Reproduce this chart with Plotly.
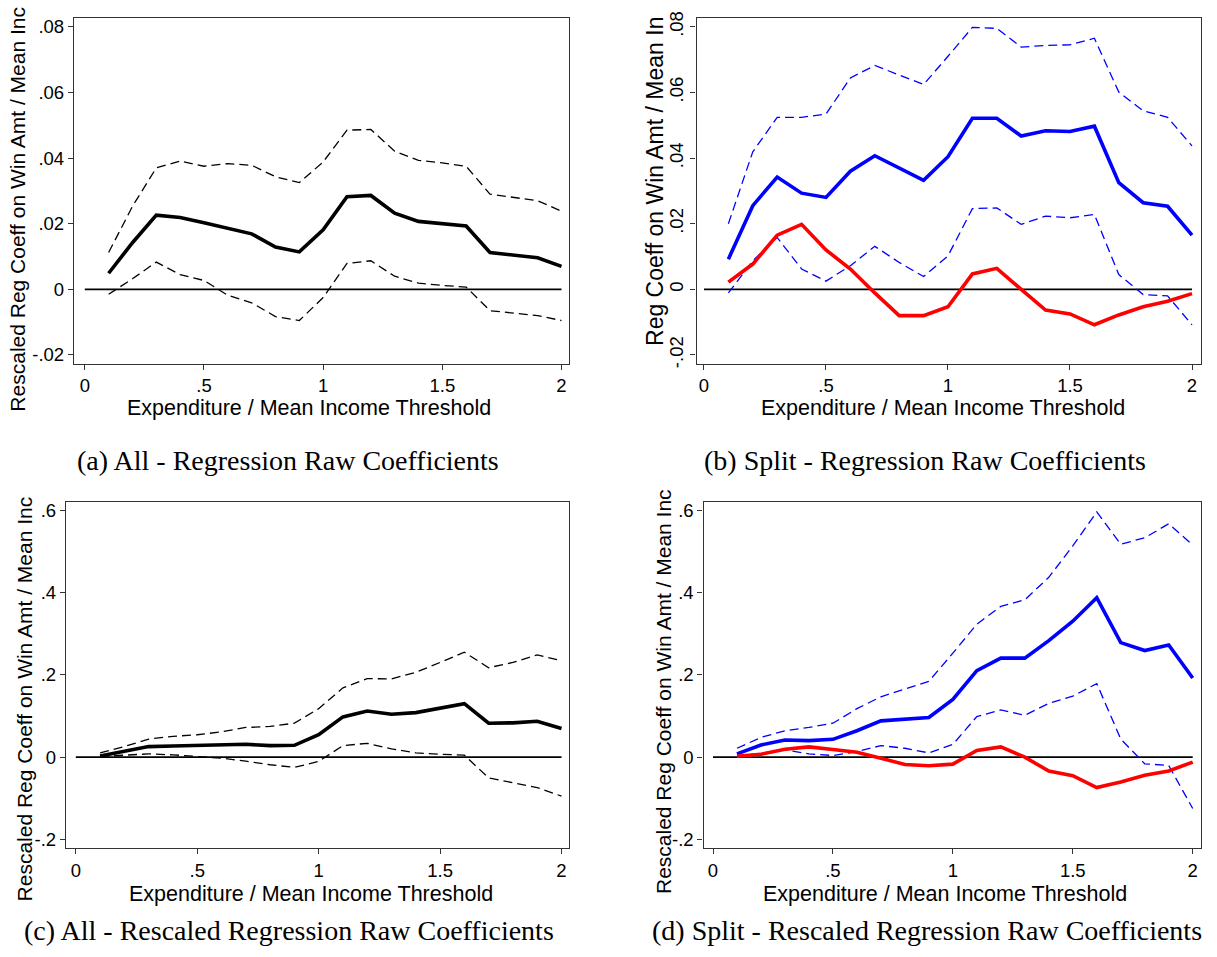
import plotly.graph_objects as go

# ---------------- data ----------------
x_thr = [0.1, 0.2, 0.3, 0.4, 0.5, 0.6, 0.7, 0.8, 0.9, 1.0,
         1.1, 1.2, 1.3, 1.4, 1.5, 1.6, 1.7, 1.8, 1.9, 2.0]

# (a) All - raw coefficients
a_coef = [0.0049, 0.0142, 0.0226, 0.0219, 0.0203, 0.0186, 0.0169, 0.0129, 0.0114, 0.0181,
          0.0282, 0.0286, 0.0232, 0.0207, 0.0199, 0.0193, 0.0112, 0.0104, 0.0096, 0.0070]
a_hi = [0.0112, 0.0253, 0.0370, 0.0391, 0.0375, 0.0383, 0.0378, 0.0343, 0.0325, 0.0388,
        0.0485, 0.0487, 0.0421, 0.0393, 0.0385, 0.0375, 0.0290, 0.0281, 0.0270, 0.0238]
a_lo = [-0.0015, 0.0032, 0.0083, 0.0045, 0.0027, -0.0018, -0.0041, -0.0083, -0.0095, -0.0025,
        0.0079, 0.0087, 0.0040, 0.0019, 0.0012, 0.0007, -0.0065, -0.0073, -0.0080, -0.0095]

# (b) Split - raw coefficients
b_blue = [0.0092, 0.0255, 0.0342, 0.0293, 0.0280, 0.0360, 0.0407, 0.0368, 0.0332, 0.0404,
          0.0521, 0.0521, 0.0467, 0.0483, 0.0481, 0.0497, 0.0325, 0.0264, 0.0253, 0.0165]
b_hi = [0.0200, 0.0419, 0.0524, 0.0524, 0.0534, 0.0644, 0.0682, 0.0654, 0.0624, 0.0710,
        0.0798, 0.0795, 0.0738, 0.0743, 0.0745, 0.0765, 0.0601, 0.0544, 0.0524, 0.0437]
b_lo = [-0.0011, 0.0087, 0.0158, 0.0062, 0.0025, 0.0072, 0.0131, 0.0082, 0.0039, 0.0102,
        0.0246, 0.0248, 0.0198, 0.0223, 0.0218, 0.0228, 0.0045, -0.0016, -0.0020, -0.0108]
b_red = [0.0022, 0.0077, 0.0165, 0.0198, 0.0120, 0.0062, -0.0011, -0.0080, -0.0080, -0.0053,
         0.0047, 0.0064, 0.0000, -0.0063, -0.0075, -0.0108, -0.0078, -0.0053, -0.0036, -0.0013]

# (c) All - rescaled coefficients
c_coef = [0.0030, 0.0137, 0.0257, 0.0273, 0.0281, 0.0289, 0.0313, 0.0281, 0.0289, 0.0546,
          0.0980, 0.1124, 0.1044, 0.1084, 0.1197, 0.1301, 0.0827, 0.0835, 0.0875, 0.0699]
c_hi = [0.0104, 0.0260, 0.0440, 0.0506, 0.0546, 0.0615, 0.0723, 0.0747, 0.0827, 0.1180,
        0.1687, 0.1912, 0.1905, 0.2064, 0.2305, 0.2554, 0.2177, 0.2305, 0.2490, 0.2345]
c_lo = [0.0016, 0.0040, 0.0080, 0.0056, 0.0024, -0.0024, -0.0096, -0.0185, -0.0249, -0.0104,
        0.0281, 0.0337, 0.0201, 0.0104, 0.0072, 0.0048, -0.0506, -0.0618, -0.0739, -0.0948]

# (d) Split - rescaled coefficients
d_blue = [0.0080, 0.0297, 0.0418, 0.0402, 0.0434, 0.0643, 0.0884, 0.0924, 0.0964, 0.1406,
          0.2104, 0.2410, 0.2410, 0.2835, 0.3309, 0.3880, 0.2787, 0.2594, 0.2731, 0.1928]
d_hi = [0.0217, 0.0480, 0.0643, 0.0723, 0.0827, 0.1180, 0.1470, 0.1660, 0.1847, 0.2530,
        0.3237, 0.3670, 0.3830, 0.4377, 0.5140, 0.5968, 0.5180, 0.5340, 0.5679, 0.5165]
d_lo = [0.0020, 0.0104, 0.0177, 0.0080, 0.0040, 0.0137, 0.0281, 0.0217, 0.0104, 0.0310,
        0.0988, 0.1149, 0.1020, 0.1309, 0.1486, 0.1791, 0.0442, -0.0161, -0.0201, -0.1250]
d_red = [0.0024, 0.0072, 0.0193, 0.0249, 0.0185, 0.0120, -0.0024, -0.0177, -0.0209, -0.0169,
         0.0161, 0.0249, 0.0000, -0.0337, -0.0450, -0.0739, -0.0602, -0.0442, -0.0337, -0.0120]

# zero reference line
ref_x = [0, 2]
ref_y = [0, 0]

# tick labels
x_tickvals = [0, 0.5, 1, 1.5, 2]
x_ticktext = ["0", ".5", "1", "1.5", "2"]
y_raw_vals = [-0.02, 0, 0.02, 0.04, 0.06, 0.08]
y_raw_text = ["-.02", "0", ".02", ".04", ".06", ".08"]
y_res_vals = [-0.2, 0, 0.2, 0.4, 0.6]
y_res_text = ["-.2", "0", ".2", ".4", ".6"]

# text
x_title = "Expenditure / Mean Income Threshold"
y_titles = ["Rescaled Reg Coeff on Win Amt / Mean Inc",
            "Reg Coeff on Win Amt / Mean In",
            "Rescaled Reg Coeff on Win Amt / Mean Inc",
            "Rescaled Reg Coeff on Win Amt / Mean Inc"]
captions = ["(a) All - Regression Raw Coefficients",
            "(b) Split - Regression Raw Coefficients",
            "(c) All - Rescaled Regression Raw Coefficients",
            "(d) Split - Rescaled Regression Raw Coefficients"]

# ---------------- layout geometry (pixels) ----------------
W, H = 1217, 957
SANS = "Liberation Sans, Arial, sans-serif"
SERIF = "Liberation Serif, Times New Roman, serif"
BLACK = "#000000"
BLUE = "#0000ff"
RED = "#ff0000"

def px(x):
    return x / W

def py(y):
    return 1 - y / H

# frame boxes: left, right, top, bottom ; x data range ; y data range
panels = [
    dict(l=74, r=569, t=11, b=361, xr=[-0.0453, 2.0315], yr=[-0.0227, 0.0827], raw=True),
    dict(l=696.5, r=1201, t=11, b=361, xr=[-0.0307, 2.0369], yr=[-0.0227, 0.0827], raw=True),
    dict(l=66, r=569, t=501, b=851, xr=[-0.0404, 2.0309], yr=[-0.2216, 0.6204], raw=False),
    dict(l=703.5, r=1201, t=501, b=851, xr=[-0.0396, 2.0346], yr=[-0.2216, 0.6204], raw=False),
]

fig = go.Figure()

series = [
    [(a_hi, BLACK, "dash"), (a_lo, BLACK, "dash"), (a_coef, BLACK, "solid")],
    [(b_hi, BLUE, "dash"), (b_lo, BLUE, "dash"), (b_blue, BLUE, "solid"), (b_red, RED, "solid")],
    [(c_hi, BLACK, "dash"), (c_lo, BLACK, "dash"), (c_coef, BLACK, "solid")],
    [(d_hi, BLUE, "dash"), (d_lo, BLUE, "dash"), (d_blue, BLUE, "solid"), (d_red, RED, "solid")],
]

for i, p in enumerate(panels):
    n = "" if i == 0 else str(i + 1)
    xa, ya = "x" + n, "y" + n
    fig.add_trace(go.Scatter(x=ref_x, y=ref_y, mode="lines", xaxis=xa, yaxis=ya,
                             line=dict(color=BLACK, width=1.6), showlegend=False,
                             hoverinfo="skip"))
    for vals, col, dash in series[i]:
        if dash == "dash":
            line = dict(color=col, width=1.3, dash="9px,5px")
        else:
            line = dict(color=col, width=3.6)
        fig.add_trace(go.Scatter(x=x_thr, y=vals, mode="lines", xaxis=xa, yaxis=ya,
                                 line=line, showlegend=False))

    axis_common = dict(showgrid=False, zeroline=False, showline=True, mirror=True,
                       linecolor="#333333", linewidth=1.3, ticks="outside", ticklen=5,
                       tickcolor="#333333", tickwidth=1.3,
                       tickfont=dict(family=SANS, size=18.5, color=BLACK))
    xaxis = dict(domain=[px(p["l"]), px(p["r"])], range=p["xr"], anchor=ya,
                 tickvals=x_tickvals, ticktext=x_ticktext, **axis_common)
    if p["raw"]:
        yv, yt = y_raw_vals, y_raw_text
    else:
        yv, yt = y_res_vals, y_res_text
    yaxis = dict(domain=[py(p["b"]), py(p["t"])], range=p["yr"], anchor=xa,
                 tickvals=yv, ticktext=yt, **axis_common)
    if i == 1:
        yaxis["tickangle"] = -90
    fig.update_layout(**{"xaxis" + n: xaxis, "yaxis" + n: yaxis})

annotations = []
x_title_pos = [(308.5, 406), (943, 406), (310.5, 897), (945, 897)]
for (cx, cy) in x_title_pos:
    annotations.append(dict(text=x_title, x=px(cx), y=py(cy), xref="paper", yref="paper",
                            xanchor="center", yanchor="middle", showarrow=False,
                            font=dict(family=SANS, size=21.5, color=BLACK)))
y_title_pos = [(18, 205, 21), (655, 177, 23), (24.5, 700, 21), (663, 693, 21)]
for t, (cx, cy, fs) in zip(y_titles, y_title_pos):
    annotations.append(dict(text=t, x=px(cx), y=py(cy), xref="paper", yref="paper",
                            xanchor="center", yanchor="middle", showarrow=False,
                            textangle=-90, font=dict(family=SANS, size=fs, color=BLACK)))
cap_pos = [(287.5, 458.5), (925, 458.5), (288.5, 934), (927, 934)]
for t, (cx, cy) in zip(captions, cap_pos):
    annotations.append(dict(text=t, x=px(cx), y=py(cy), xref="paper", yref="paper",
                            xanchor="center", yanchor="middle", showarrow=False,
                            font=dict(family=SERIF, size=28, color=BLACK)))

fig.update_layout(width=W, height=H, margin=dict(l=0, r=0, t=0, b=0),
                  paper_bgcolor="white", plot_bgcolor="white",
                  annotations=annotations, showlegend=False)

fig.write_html("out.html")
